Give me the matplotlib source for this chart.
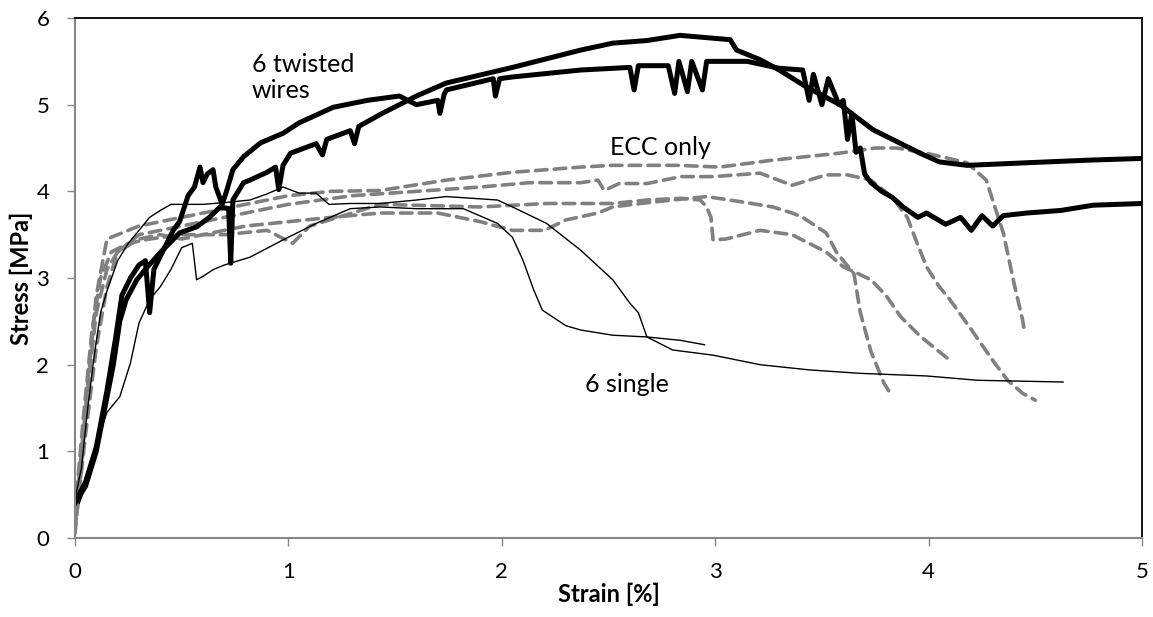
import matplotlib.pyplot as plt

plt.rcParams['font.family'] = ['Lato', 'DejaVu Sans']

# ---- 6 twisted wires (thick black) ----
tw1_x = [0.0, 0.05, 0.1, 0.14, 0.18, 0.21, 0.24, 0.29, 0.34, 0.41, 0.49, 0.57, 0.63, 0.68, 0.72, 0.73,
         0.74, 0.79, 0.82, 0.9, 0.94, 0.955, 0.975, 1.01, 1.13, 1.16, 1.18, 1.29, 1.31, 1.33, 1.44,
         1.52, 1.6, 1.74, 2.05, 2.37, 2.52, 2.68, 2.835, 3.07, 3.1, 3.21, 3.3, 3.43, 3.585, 3.74,
         3.83, 3.96, 4.05, 4.18, 4.46, 4.75, 5.0]
tw1_y = [0.4, 0.6, 1.0, 1.5, 2.0, 2.5, 2.75, 2.98, 3.13, 3.32, 3.52, 3.59, 3.7, 3.82, 3.8, 3.17,
         3.9, 4.1, 4.13, 4.22, 4.28, 4.02, 4.3, 4.44, 4.55, 4.42, 4.6, 4.7, 4.55, 4.75, 4.9,
         5.0, 5.1, 5.25, 5.43, 5.63, 5.71, 5.74, 5.8, 5.75, 5.63, 5.52, 5.4, 5.2, 5.0, 4.71,
         4.6, 4.44, 4.34, 4.3, 4.33, 4.36, 4.38]

tw2_x = [0.02, 0.05, 0.1, 0.15, 0.19, 0.22, 0.26, 0.3, 0.33, 0.35, 0.37, 0.42, 0.46, 0.49, 0.53,
         0.56, 0.586, 0.6, 0.62, 0.647, 0.66, 0.69, 0.71, 0.74, 0.79, 0.87, 0.975, 1.05, 1.21,
         1.37, 1.52, 1.6, 1.7, 1.71, 1.73, 1.74, 1.96, 1.97, 1.99, 2.05, 2.37, 2.6, 2.62, 2.64,
         2.78, 2.81, 2.83, 2.87, 2.89, 2.94, 2.96, 3.0, 3.15, 3.3, 3.41, 3.44, 3.46, 3.5, 3.53,
         3.58, 3.6, 3.62, 3.64, 3.66, 3.68, 3.7, 3.73, 3.78, 3.83, 3.88, 3.95, 3.99, 4.08, 4.15,
         4.2, 4.25, 4.3, 4.35, 4.46, 4.62, 4.77, 5.0]
tw2_y = [0.5, 0.65, 1.05, 1.7, 2.3, 2.8, 3.0, 3.15, 3.2, 2.6, 3.1, 3.35, 3.55, 3.65, 3.95,
         4.05, 4.28, 4.1, 4.2, 4.25, 4.05, 3.85, 4.0, 4.25, 4.4, 4.56, 4.67, 4.79, 4.97,
         5.05, 5.1, 5.0, 5.05, 4.9, 5.12, 5.17, 5.3, 5.1, 5.3, 5.32, 5.4, 5.43, 5.17, 5.45,
         5.45, 5.13, 5.5, 5.15, 5.5, 5.17, 5.5, 5.5, 5.5, 5.42, 5.4, 5.05, 5.35, 5.0, 5.3,
         5.0, 5.05, 4.6, 4.9, 4.45, 4.5, 4.2, 4.1, 4.0, 3.93, 3.82, 3.7, 3.75, 3.62, 3.7,
         3.55, 3.72, 3.6, 3.72, 3.75, 3.78, 3.84, 3.86]

# ---- 6 single (thin black) ----
sg1_x = [0.0, 0.03, 0.06, 0.09, 0.12, 0.15, 0.2, 0.25, 0.3, 0.35, 0.4, 0.45, 0.5, 0.6, 0.7, 0.82,
         0.9, 0.975, 1.05, 1.13, 1.19, 1.29, 1.43, 1.6, 1.74, 1.98, 2.05, 2.21, 2.37, 2.52, 2.6,
         2.64, 2.68, 2.8, 2.99, 3.21, 3.44, 3.68, 3.99, 4.23, 4.63]
sg1_y = [0.45, 0.8, 1.5, 2.1, 2.6, 2.85, 3.2, 3.4, 3.55, 3.7, 3.78, 3.85, 3.85, 3.85, 3.87, 3.9,
         3.97, 4.05, 3.98, 3.98, 3.85, 3.86, 3.86, 3.9, 3.94, 3.9, 3.82, 3.63, 3.32, 2.98, 2.71,
         2.6, 2.32, 2.17, 2.11, 2.0, 1.94, 1.9, 1.87, 1.82, 1.8]

sg2_x = [0.02, 0.05, 0.1, 0.15, 0.21, 0.26, 0.3, 0.35, 0.4, 0.45, 0.5, 0.55, 0.57, 0.6, 0.65, 0.7,
         0.82, 0.975, 1.13, 1.29, 1.43, 1.6, 1.82, 1.98, 2.05, 2.1, 2.15, 2.19, 2.3, 2.37, 2.52,
         2.68, 2.84, 2.95]
sg2_y = [0.4, 0.6, 1.1, 1.45, 1.63, 2.02, 2.48, 2.75, 2.9, 3.1, 3.35, 3.4, 2.98, 3.02, 3.1, 3.15,
         3.24, 3.44, 3.63, 3.8, 3.82, 3.8, 3.8, 3.63, 3.47, 3.2, 2.86, 2.63, 2.45, 2.4, 2.34,
         2.32, 2.28, 2.23]

# ---- ECC only (grey dashed) ----
ecc1_x = [0.0, 0.03, 0.06, 0.1, 0.15, 0.2, 0.3, 0.4, 0.5, 0.6, 0.8, 1.0, 1.2, 1.43, 1.74, 2.05,
          2.37, 2.52, 2.83, 3.02, 3.27, 3.58, 3.75, 3.85, 3.99, 4.18, 4.27, 4.3, 4.35, 4.4, 4.44, 4.45]
ecc1_y = [0.05, 0.8, 1.8, 2.8, 3.45, 3.5, 3.6, 3.65, 3.7, 3.75, 3.85, 3.95, 4.0, 4.01, 4.13, 4.22,
          4.28, 4.3, 4.3, 4.28, 4.36, 4.44, 4.5, 4.5, 4.44, 4.33, 4.13, 3.9, 3.52, 2.94, 2.52, 2.37]

ecc2_x = [0.0, 0.05, 0.1, 0.15, 0.2, 0.3, 0.5, 0.7, 1.0, 1.3, 1.6, 1.9, 2.13, 2.37, 2.45, 2.48,
          2.55, 2.68, 2.84, 2.99, 3.21, 3.36, 3.52, 3.62, 3.73, 3.83, 3.9, 3.94, 3.99, 4.05, 4.1,
          4.21, 4.3, 4.37, 4.44, 4.5]
ecc2_y = [0.1, 1.2, 2.2, 2.9, 3.3, 3.5, 3.6, 3.7, 3.85, 3.95, 4.0, 4.05, 4.1, 4.1, 4.13, 4.01,
          4.09, 4.09, 4.17, 4.17, 4.21, 4.07, 4.19, 4.19, 4.13, 3.93, 3.7, 3.44, 3.13, 2.9, 2.75,
          2.37, 2.05, 1.82, 1.67, 1.59]

ecc3_x = [0.0, 0.05, 0.1, 0.15, 0.2, 0.3, 0.4, 0.5, 0.6, 0.8, 1.0, 1.2, 1.43, 1.7, 1.9, 2.05,
          2.2, 2.3, 2.45, 2.52, 2.65, 2.8, 2.96, 3.12, 3.27, 3.36, 3.41, 3.52, 3.57, 3.65, 3.68,
          3.73, 3.79, 3.83]
ecc3_y = [0.2, 1.5, 2.6, 3.1, 3.3, 3.45, 3.5, 3.45, 3.5, 3.6, 3.65, 3.7, 3.75, 3.75, 3.65, 3.55,
          3.55, 3.67, 3.75, 3.82, 3.86, 3.9, 3.94, 3.88, 3.82, 3.75, 3.7, 3.52, 3.29, 3.05, 2.6,
          2.15, 1.79, 1.63]

ecc4_x = [0.0, 0.04, 0.08, 0.12, 0.17, 0.25, 0.35, 0.5, 0.7, 0.9, 1.02, 1.1, 1.43, 1.9, 2.21,
          2.52, 2.68, 2.84, 2.93, 2.96, 2.98, 2.99, 3.05, 3.21, 3.36, 3.52, 3.6, 3.73, 3.8, 3.87,
          3.96, 4.0, 4.1]
ecc4_y = [0.3, 1.4, 2.4, 3.0, 3.3, 3.4, 3.45, 3.5, 3.5, 3.55, 3.4, 3.6, 3.85, 3.82, 3.86,
          3.86, 3.9, 3.92, 3.9, 3.82, 3.7, 3.44, 3.45, 3.55, 3.5, 3.3, 3.13, 2.98, 2.8, 2.55,
          2.33, 2.25, 2.05]

fig = plt.figure(figsize=(11.53, 6.17), dpi=100)
ax = fig.add_axes([0.065, 0.128, 0.9255, 0.8428])

grey = '#808080'
for xs, ys in [(ecc1_x, ecc1_y), (ecc2_x, ecc2_y), (ecc3_x, ecc3_y), (ecc4_x, ecc4_y)]:
    ax.plot(xs, ys, color=grey, linewidth=2.6, linestyle=(0, (3.2, 2.0)), dash_capstyle='round')

for xs, ys in [(sg1_x, sg1_y), (sg2_x, sg2_y)]:
    ax.plot(xs, ys, color='black', linewidth=1.0)

for xs, ys in [(tw1_x, tw1_y), (tw2_x, tw2_y)]:
    ax.plot(xs, ys, color='black', linewidth=3.6, solid_joinstyle='round')

# 曲线标注
ax.text(0.83, 5.377, '6 twisted', fontsize=18, ha='left', va='baseline')
ax.text(0.83, 5.077, 'wires', fontsize=18, ha='left', va='baseline')
ax.text(2.507, 4.42, 'ECC only', fontsize=18, ha='left', va='baseline')
ax.text(2.39, 1.685, '6 single', fontsize=18, ha='left', va='baseline')

ax.set_xlim(0, 5)
ax.set_ylim(0, 6)
ax.set_xticks([0, 1, 2, 3, 4, 5])
ax.set_yticks([0, 1, 2, 3, 4, 5, 6])
ax.tick_params(axis='both', direction='out', length=5.5, width=1, color='#868686',
               labelsize=16)
ax.tick_params(axis='x', pad=12)
ax.tick_params(axis='y', pad=13)

for side in ['left', 'bottom']:
    ax.spines[side].set_color('#868686')
    ax.spines[side].set_linewidth(1.5)
for side in ['top', 'right']:
    ax.spines[side].set_color('black')
    ax.spines[side].set_linewidth(1.3)

ax.set_xlabel('Strain [%]', fontsize=17, fontweight='bold', labelpad=0)
ax.set_ylabel('Stress [MPa]', fontsize=17, fontweight='bold', labelpad=2)

plt.savefig('out.png', dpi=100)
